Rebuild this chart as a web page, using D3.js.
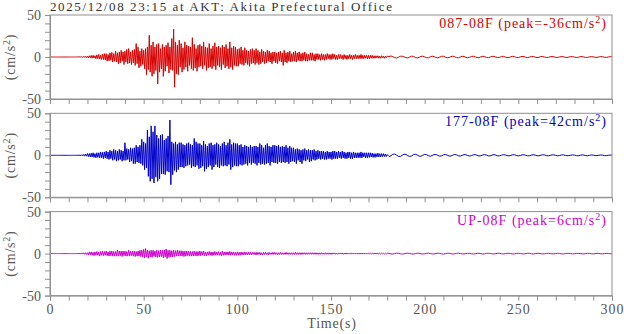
<!DOCTYPE html>
<html><head><meta charset="utf-8">
<script src="https://cdn.jsdelivr.net/npm/d3@7"></script>
<style>
html,body{margin:0;padding:0;background:#fff;}
svg{display:block;font-family:"Liberation Serif","Times New Roman",serif;}
</style></head>
<body><svg id="c" width="624" height="334"></svg>
<script>
// ---------- data ----------
const title = "2025/12/08 23:15 at AKT: Akita Prefectural Office";
const channels = ["087-08F", "177-08F", "UP-08F"];
const peaks = [-36, 42, 6];
const colors = ["#d80000", "#0000cc", "#cc00cc"];
const yTickValues = [-50, -40, -30, -20, -10, 0, 10, 20, 30, 40, 50];
const yTickLabels = ["-50", "0", "50"];
const xTickValues = [0,10,20,30,40,50,60,70,80,90,100,110,120,130,140,150,160,170,180,190,200,210,220,230,240,250,260,270,280,290,300];
const xTickLabels = ["0", "50", "100", "150", "200", "250", "300"];

// early part: samples every 0.5 s from 0 s to 180 s; late part: every 1 s from 181 s to 300 s
const earlyStart = 0, earlyStep = 0.5;
const lateStart = 181, lateStep = 1;

const early087 = [
0,0,0,0,0,0,0,0,0,0,
0,0,0,0,0,0,0,0,0,0,
0,0,0,0,0,0,0,0,0,0,
0.3,-0.3,0.5,-0.4,0.6,-0.5,0.8,-0.6,1,-0.8,
1,-1.2,1.5,-1,1.8,-1.5,2,-1.2,1.5,-2,
2.5,-2,3,-2.5,2,-3,3.5,-3,4,-3.5,
4,-5,3,-4.5,5,-4,5.5,-6,4,-5,
7,-6,5,-8,6,-7,8,-5,6,-9,
7,-6,9,-8,10,-7,6,-9,8,-7,
9,-10,16,-8,12,-13,7,-11,10,-9,
8,-14,10,-21,12,-15,26,-18,14,-23,
18,-20,12,-16,15,-32,16,-18,10,-14,
15,-23,12,-17,14,-11,17,-19,12,-15,
22,-16,33,-36,18,-20,14,-21,20,-12,
16,-18,11,-15,18,-12,14,-17,13,-10,
12,-14,23,-16,15,-13,10,-17,14,-12,
15,-11,13,-14,18,-10,12,-16,11,-13,
16,-12,10,-14,13,-11,17,-15,12,-10,
13,-12,11,-15,14,-9,12,-13,15,-11,
10,-14,18,-12,11,-15,13,-10,12,-11,
9,-11,10,-8,12,-9,8,-10,11,-7,
8,-9,7,-11,9,-8,10,-7,8,-9,
10,-7,8,-9,6,-8,9,-6,7,-8,
6,-7,8,-5,7,-6,5,-8,6,-5,
6,-7,5,-8,6,-5,7,-6,5,-10,
8,-6,5,-7,6,-5,7,-6,4,-5,
6,-5,7,-6,5,-4,6,-5,4,-5,
5,-4,6,-5,4,-5,3,-4,5,-4,
5,-4,3,-5,4,-3,4,-3,3,-4,
4,-3,3,-4,3,-3,4,-2,3,-3,
3,-3,4,-2,3,-3,2,-3,3,-2,
3,-2,2,-3,3,-2,2,-3,2,-2,
3,-2,2,-3,2,-2,3,-2,2,-2,
2,-2,3,-2,2,-2,2,-1.5,2,-2,
2,-2,2,-1.5,2,-1.5,1.5,-1.5,1.5,-1,
1.5,-1.5,1,-1.5,1.5,-1,1,-1.5,1,-1,
1
];
const late087 = [
0.5,1.2,0.4,-0.8,-1.2,-0.3,0.8,1,0.2,-0.9,
-1,0,1,0.6,-0.5,-1.1,-0.4,0.7,1,0.1,
-0.8,-0.9,0.2,1,0.5,-0.6,-1,-0.2,0.8,0.9,
-0.1,-0.9,-0.6,0.4,1,0.3,-0.7,-0.9,0,0.8,
0.6,-0.4,-0.9,-0.3,0.6,0.9,0.1,-0.7,-0.8,0.2,
0.8,0.5,-0.5,-0.8,-0.1,0.7,0.7,-0.2,-0.8,-0.4,
0.5,0.8,0,-0.7,-0.6,0.3,0.8,0.3,-0.6,-0.7,
0.1,0.7,0.5,-0.4,-0.7,-0.1,0.6,0.6,-0.2,-0.7,
-0.3,0.5,0.6,0,-0.6,-0.5,0.3,0.6,0.2,-0.5,
-0.6,0.1,0.6,0.4,-0.4,-0.6,-0.1,0.5,0.5,-0.2,
-0.6,-0.3,0.4,0.5,0,-0.5,-0.4,0.2,0.5,0.2,
-0.4,-0.5,0.1,0.5,0.3,-0.3,-0.5,0,0.4,0.2
];
const early177 = [
0,0,0,0,0,0,0,0,0,0,
0,0,0,0,0,0,0,0,0,0,
0,0,0,0,0,0,0,0,0,0,
0.3,-0.3,0.5,-0.5,0.8,-0.6,1,-1,1.5,-1,
2,-1.5,2,-2,2.5,-2,3,-2.5,2,-3,
3,-2.5,3,-3,4,-3,3.5,-4,4,-3,
5,-4,4,-5,6,-4,5,-6,7,-5,
6,-7,5,-6,7,-5,6,-7,5,-6,
15,-6,8,-5,7,-8,9,-7,8,-10,
9,-10,12,-8,10,-9,12,-10,19,-12,
16,-17,14,-15,30,-25,22,-31,35,-28,
28,-33,35,-26,24,-31,20,-28,24,-22,
25,-22,18,-23,20,-19,23,-20,42,-35,
16,-23,14,-18,16,-20,13,-17,15,-14,
15,-14,13,-15,12,-13,14,-12,15,-11,
13,-15,12,-13,20,-14,16,-12,14,-16,
14,-15,12,-13,17,-19,13,-16,11,-14,
14,-12,15,-17,12,-14,13,-11,15,-14,
13,-15,11,-12,14,-13,16,-12,12,-13,
15,-11,19,-17,13,-14,15,-12,14,-13,
14,-13,12,-11,13,-12,10,-11,12,-10,
11,-12,10,-9,12,-11,10,-9,11,-10,
11,-12,10,-9,14,-11,12,-10,9,-11,
12,-10,14,-9,11,-12,10,-8,12,-9,
12,-9,11,-10,12,-8,10,-9,11,-8,
10,-9,12,-8,9,-10,11,-8,9,-7,
9,-8,7,-10,8,-6,7,-8,6,-10,
7,-6,8,-7,6,-5,7,-8,6,-7,
6,-5,7,-6,5,-5,6,-4,5,-5,
5,-4,5,-5,4,-5,5,-4,4,-4,
4,-5,5,-4,5,-4,4,-4,5,-3,
4,-4,5,-3,4,-4,3,-4,4,-3,
4,-4,3,-4,4,-3,3,-3,3,-3,
3,-3,4,-3,3,-2,3,-3,3,-3,
3,-2.5,3,-2,2.5,-2.5,2,-2.5,2,-2,
2.5,-2,2,-2,2,-1.5,2,-1.5,1.5,-1.5,
1
];
const late177 = [
-1.5,-0.5,1.2,1.5,0.2,-1.3,-1.4,0,1.3,1.1,
-0.4,-1.4,-0.8,0.7,1.3,0.4,-1,-1.2,0.1,1.1,
0.8,-0.5,-1.1,-0.3,0.9,1,-0.1,-1,-0.7,0.5,
1,0.3,-0.8,-0.9,0.2,0.9,0.6,-0.5,-0.9,-0.1,
0.8,0.7,-0.3,-0.9,-0.4,0.6,0.8,0,-0.8,-0.5,
0.4,0.8,0.2,-0.7,-0.6,0.3,0.8,0.3,-0.6,-0.7,
0.1,0.7,0.5,-0.4,-0.7,-0.1,0.6,0.6,-0.2,-0.7,
-0.3,0.5,0.6,0,-0.6,-0.5,0.3,0.6,0.2,-0.5,
-0.6,0.1,0.6,0.4,-0.4,-0.6,-0.1,0.5,0.5,-0.2,
-0.6,-0.3,0.4,0.5,0,-0.5,-0.4,0.2,0.5,0.2,
-0.4,-0.5,0.1,0.5,0.3,-0.3,-0.5,0,0.4,0.2,
-0.3,-0.4,0.1,0.4,0.2,-0.3,-0.4,0,0.3,0.1
];
const earlyUP = [
0,0,0,0,0,0,0,0,0,0,
0,0,0,0,0,0,0,0,0,0,
0,0,0,0,0,0,0,0,0,0,
0.3,-0.3,0.5,-0.5,0.8,-0.6,1,-0.8,1,-1,
1,-1.5,2,-1.5,2,-2,1.5,-2.5,2,-2,
2.5,-2,2,-3,2.5,-2,3,-2.5,2.5,-2,
3,-2.5,2,-3,3,-2.5,3,-3,2.5,-3,
2.5,-3,4.4,-3,3,-2.5,3,-3.5,3,-2.5,
3,-3,2.5,-3,4,-3,3,-2.5,3,-3,
3,-3.5,2.5,-3,3,-3,4,-3.5,4,-4,
5,-5,6,-4,4,-5.5,3.5,-4,4,-4.5,
4,-3.5,3,-4,4,-4.5,3.5,-4,4,-3.5,
4,-5,4.5,-4,5.5,-6,4,-4.5,4,-4,
3.5,-4,4,-3.5,3.5,-3,4,-3,3.5,-3,
3.5,-3,3,-3.5,3,-3,3,-2.5,3,-3,
3,-3,2.5,-3,3,-2.5,2.5,-3,2.5,-2.5,
3,-2.5,2.5,-2,3,-2.5,2,-2.5,2,-2,
2.5,-2,2,-2.5,2,-2,2.5,-2,2,-2,
2.5,-2,2,-2.5,3,-2,2,-2,2,-1.5,
2,-2,2.5,-2,2,-1.5,2,-2,1.5,-2,
2,-2,1.5,-2,2,-1.5,1.5,-1.5,2,-1.5,
1.5,-1.5,2,-1.5,1.5,-1.5,1.5,-1,1.5,-1.5,
1.5,-1.5,1.5,-1,1.5,-1.5,1,-1.5,1.5,-1,
1.5,-1,1,-1.5,1.5,-1,1,-1,1.5,-1,
1.5,-1,1,-1.5,1,-1,1.5,-1,1,-1,
1,-1,1.5,-1,1,-1,1,-1,1,-1,
1,-1,1.5,-1,1,-1,1,-1,1,-1,
1,-0.8,1,-1,1,-0.8,1,-0.8,1,-0.8,
1,-0.8,1,-0.8,1,-0.8,0.8,-1,0.8,-0.8,
1,-0.8,0.8,-0.8,1,-0.8,0.8,-0.8,0.8,-0.8,
0.8,-0.8,0.8,-0.6,0.8,-0.8,0.6,-0.8,0.8,-0.6,
0.8,-0.6,0.8,-0.8,0.6,-0.6,0.8,-0.6,0.6,-0.6,
0.6,-0.6,0.8,-0.6,0.6,-0.6,0.6,-0.6,0.6,-0.6,
0.6,-0.6,0.6,-0.6,0.6,-0.6,0.6,-0.6,0.6,-0.6,
0.6,-0.5,0.6,-0.5,0.6,-0.5,0.6,-0.5,0.6,-0.5,
0.6,-0.5,0.6,-0.5,0.6,-0.5,0.6,-0.5,0.6,-0.5,
0.5
];
const lateUP = [
0.2,-0.4,-0.5,0,0.5,0.4,-0.2,-0.5,-0.3,0.3,
0.5,0.1,-0.4,-0.5,0,0.5,0.4,-0.2,-0.5,-0.2,
0.3,0.5,0.1,-0.4,-0.4,0.1,0.5,0.3,-0.3,-0.5,
-0.1,0.4,0.4,-0.1,-0.5,-0.3,0.3,0.5,0.1,-0.4,
-0.4,0.1,0.4,0.3,-0.2,-0.4,-0.2,0.3,0.4,0,
-0.4,-0.3,0.2,0.4,0.2,-0.3,-0.4,0,0.4,0.3,
-0.2,-0.4,-0.1,0.3,0.4,0,-0.4,-0.3,0.2,0.4,
0.1,-0.3,-0.4,0,0.4,0.3,-0.2,-0.4,-0.1,0.3,
0.3,-0.1,-0.4,-0.2,0.2,0.4,0.1,-0.3,-0.3,0.1,
0.4,0.2,-0.2,-0.4,-0.1,0.3,0.3,-0.1,-0.3,-0.2,
0.2,0.3,0,-0.3,-0.3,0.1,0.3,0.2,-0.2,-0.3,
0,0.3,0.2,-0.2,-0.3,0,0.3,0.2,-0.1,-0.2
];
const earlyParts = [early087, early177, earlyUP];
const lateParts = [late087, late177, lateUP];

// table of [time, value] points for each trace
const traces = earlyParts.map((e, i) =>
  e.map((v, k) => [earlyStart + k * earlyStep, v])
   .concat(lateParts[i].map((v, k) => [lateStart + k * lateStep, v])));

// ---------- layout ----------
const svg = d3.select("#c");
const left = 50, right = 612;
const panelTop0 = 15, panelStep = 98.3, panelH = 84;
const axisColor = "#909090", textColor = "#555";

const x = d3.scaleLinear().domain([0, 300]).range([left, right]);

svg.append("text").attr("x", 50).attr("y", 10.5)
  .attr("font-size", 13).attr("fill", "#333")
  .attr("textLength", 342).attr("lengthAdjust", "spacing")
  .text(title);

channels.forEach((ch, i) => {
  const top = panelTop0 + i * panelStep;
  const y = d3.scaleLinear().domain([-50, 50]).range([top + panelH, top]);
  const g = svg.append("g");

  const line = d3.line().x(d => x(d[0])).y(d => y(d[1]));
  g.append("path").datum(traces[i])
    .attr("fill", "none").attr("stroke", colors[i])
    .attr("stroke-width", 1).attr("stroke-linejoin", "bevel")
    .attr("d", line);

  g.append("rect").attr("x", left).attr("y", top)
    .attr("width", right - left).attr("height", panelH)
    .attr("fill", "none").attr("stroke", axisColor).attr("stroke-width", 1);

  const ya = g.append("g").attr("transform", `translate(${left},0)`)
    .call(d3.axisLeft(y).tickValues(yTickValues).tickSize(5).tickPadding(4)
      .tickFormat(d => yTickLabels.includes(String(d)) ? String(d) : ""));
  ya.select(".domain").attr("stroke", axisColor);
  ya.selectAll(".tick line").attr("stroke", axisColor);
  ya.selectAll(".tick text").attr("fill", textColor)
    .attr("font-size", 14).attr("font-family", "Liberation Serif");

  const xa = g.append("g").attr("transform", `translate(0,${top + panelH})`)
    .call(d3.axisBottom(x).tickValues(xTickValues).tickSize(5).tickPadding(3)
      .tickFormat(d => (i === 2 && xTickLabels.includes(String(d))) ? String(d) : ""));
  xa.select(".domain").attr("stroke", axisColor);
  xa.selectAll(".tick line").attr("stroke", axisColor);
  xa.selectAll(".tick text").attr("fill", textColor)
    .attr("font-size", 14).attr("font-family", "Liberation Serif")
    .attr("letter-spacing", 1);

  const yl = g.append("text")
    .attr("transform", `translate(15,${top + panelH / 2}) rotate(-90)`)
    .attr("text-anchor", "middle").attr("font-size", 14).attr("fill", textColor)
    .attr("letter-spacing", 0.8);
  yl.append("tspan").text("(cm/s");
  yl.append("tspan").attr("dy", -5).attr("font-size", 10).text("2");
  yl.append("tspan").attr("dy", 5).text(")");

  const lbl = g.append("text").attr("x", 607).attr("y", top + 13)
    .attr("text-anchor", "end").attr("font-size", 14).attr("fill", colors[i])
    .attr("letter-spacing", 1);
  lbl.append("tspan").text(`${ch} (peak=${peaks[i]}cm/s`);
  lbl.append("tspan").attr("dy", -5).attr("font-size", 10).text("2");
  lbl.append("tspan").attr("dy", 5).text(")");
});

svg.append("text").attr("x", 332).attr("y", 328)
  .attr("text-anchor", "middle").attr("font-size", 14).attr("fill", textColor)
  .attr("letter-spacing", 0.8)
  .text("Time(s)");
</script></body></html>
